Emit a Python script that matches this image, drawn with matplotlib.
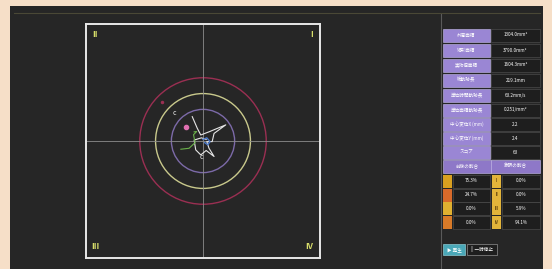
import numpy as np
import matplotlib.pyplot as plt
from matplotlib.patches import Rectangle, Circle

plt.rcParams['font.family'] = ['Noto Sans CJK JP', 'DejaVu Sans']

# ==========================
# data
# ==========================
item_labels = ["外周面積", "矩形面積", "実効値面積", "総軌跡長", "単位時間軌跡長",
               "単位面積軌跡長", "中心変位X (mm)", "中心変位Y (mm)", "スコア"]
item_values = ["1304.0mm²", "3790.0mm²", "1604.3mm²", "219.1mm", "63.2mm/s",
               "0.251/mm²", "2.2", "2.4", "63"]
ratio_headers = ["前後の割合", "象限の割合"]
front_back_pct = [75.3, 24.7, 0.0, 0.0]
quadrant_pct = [0.0, 0.0, 5.9, 94.1]
quadrant_names = ["I", "II", "III", "IV"]

circle_radii = [1.0, 1.5, 2.0]
circle_colors = ["#7c6aa8", "#c9c98c", "#9a2f52"]

# sway trace (cm)
path_x = [-0.34, -0.18, -0.07, 0.19, 0.72, 0.35, 0.29, 0.12, 0.19, 0.35, 0.1, -0.07, -0.23, -0.28, -0.05, 0.1]
path_y = [0.77, 0.40, 0.19, 0.29, 0.51, 0.24, -0.02, -0.02, -0.23, -0.49, -0.30, -0.44, -0.28, 0.03, 0.10, 0.05]
green_x = [-0.70, -0.44, -0.25, -0.30, -0.20, -0.28]
green_y = [-0.26, -0.23, -0.05, 0.20, 0.30, 0.29]
blue_x = [0.0, 0.12, 0.22, 0.15, 0.05]
blue_y = [0.05, 0.10, -0.02, -0.12, -0.05]

W, H = 552, 269
fig = plt.figure(figsize=(W / 100, H / 100), dpi=100)
fig.patch.set_facecolor("#f6dfc8")

# background / right panel in pixel coords
bg = fig.add_axes([0, 0, 1, 1])
bg.set_xlim(0, W)
bg.set_ylim(H, 0)
bg.axis("off")
bg.add_patch(Rectangle((10, 6), 533, 270, facecolor="#262626", edgecolor="none"))
bg.plot([14, 540], [13, 13], color="#4a4836", lw=0.8)
bg.plot([441, 441], [14, 269], color="#5a5a5a", lw=0.8)

fs = 3.3
row_y = [35, 50, 65, 80, 95, 110, 124, 138, 152]
for y, lab, val in zip(row_y, item_labels, item_values):
    bg.add_patch(Rectangle((443, y - 6.5), 47, 13, facecolor="#9a86d4", edgecolor="#c8bdf0", lw=0.4))
    bg.add_patch(Rectangle((491, y - 6.5), 49, 13, facecolor="#1e1e1e", edgecolor="#555", lw=0.4))
    bg.text(466.5, y, lab, color="white", fontsize=fs, ha="center", va="center")
    bg.text(515.5, y, val, color="white", fontsize=fs, ha="center", va="center")

hy = 166
for x0, lab in zip([443, 491], ratio_headers):
    bg.add_patch(Rectangle((x0, hy - 6.5), 48 if x0 == 443 else 49, 13, facecolor="#8e78c8", edgecolor="#c8bdf0", lw=0.4))
    bg.text(x0 + 24, hy, lab, color="white", fontsize=fs, ha="center", va="center")

pct_y = [181, 195, 208, 222]
left_icon = ["#d9a020", "#d86a2a", "#e0b030", "#d87a28"]
for i, y in enumerate(pct_y):
    bg.add_patch(Rectangle((443, y - 6.5), 9, 13, facecolor=left_icon[i], edgecolor="none"))
    bg.add_patch(Rectangle((453, y - 6.5), 37, 13, facecolor="#1e1e1e", edgecolor="#555", lw=0.4))
    bg.text(471.5, y, f"{front_back_pct[i]:.1f}%", color="white", fontsize=fs, ha="center", va="center")
    bg.add_patch(Rectangle((492, y - 6.5), 9, 13, facecolor="#e2b43a", edgecolor="none"))
    bg.text(496.5, y, quadrant_names[i], color="#6a4a10", fontsize=3, ha="center", va="center", weight="bold")
    bg.add_patch(Rectangle((502, y - 6.5), 38, 13, facecolor="#1e1e1e", edgecolor="#555", lw=0.4))
    bg.text(521, y, f"{quadrant_pct[i]:.1f}%", color="white", fontsize=fs, ha="center", va="center")

bg.add_patch(Rectangle((443, 244), 22, 11, facecolor="#4aa8b8", edgecolor="#9fe0e8", lw=0.4))
bg.text(454, 249.5, "▶ 再生", color="white", fontsize=fs, ha="center", va="center")
bg.add_patch(Rectangle((467, 244), 30, 11, facecolor="#1e1e1e", edgecolor="#aaaaaa", lw=0.4))
bg.text(482, 249.5, "|| 一時停止", color="white", fontsize=fs, ha="center", va="center")

# ==========================
# stabilogram
# ==========================
ax = fig.add_axes([86 / W, 1 - 258 / H, 234 / W, 234 / H])
ax.set_facecolor("#262626")
lim = 3.7
ax.set_xlim(-lim, lim)
ax.set_ylim(-lim, lim)
ax.set_xticks([])
ax.set_yticks([])
for s in ax.spines.values():
    s.set_color("#e8e8e8")
    s.set_linewidth(1.4)
ax.axhline(0, color="#8c8c8c", lw=0.6)
ax.axvline(0, color="#8c8c8c", lw=0.6)

for r, c in zip(circle_radii, circle_colors):
    ax.add_patch(Circle((0, 0), r, fill=False, edgecolor=c, lw=1.0))

ax.plot(path_x, path_y, color="#e6e6e6", lw=0.8)
ax.plot(green_x, green_y, color="#6ab04a", lw=0.8)
ax.plot(blue_x, blue_y, color="#4a78c8", lw=1.0)
ax.plot([-0.54], [0.44], "o", color="#e070b0", ms=3)
ax.text(-0.92, 0.89, "c", color="#e8e8e8", fontsize=5, ha="center", va="center")
ax.plot([-1.3], [1.23], "o", color="#9a2f52", ms=1.5)
ax.text(-0.05, -0.5, "c", color="#e8e8e8", fontsize=5, ha="center", va="center")

qkw = dict(color="#d8de6a", fontsize=6, weight="bold", va="center", ha="center", transform=ax.transAxes)
ax.text(0.04, 0.955, "II", **qkw)
ax.text(0.965, 0.955, "I", **qkw)
ax.text(0.04, 0.05, "III", **qkw)
ax.text(0.955, 0.05, "IV", **qkw)

fig.savefig("out.png", dpi=100, facecolor=fig.get_facecolor())
